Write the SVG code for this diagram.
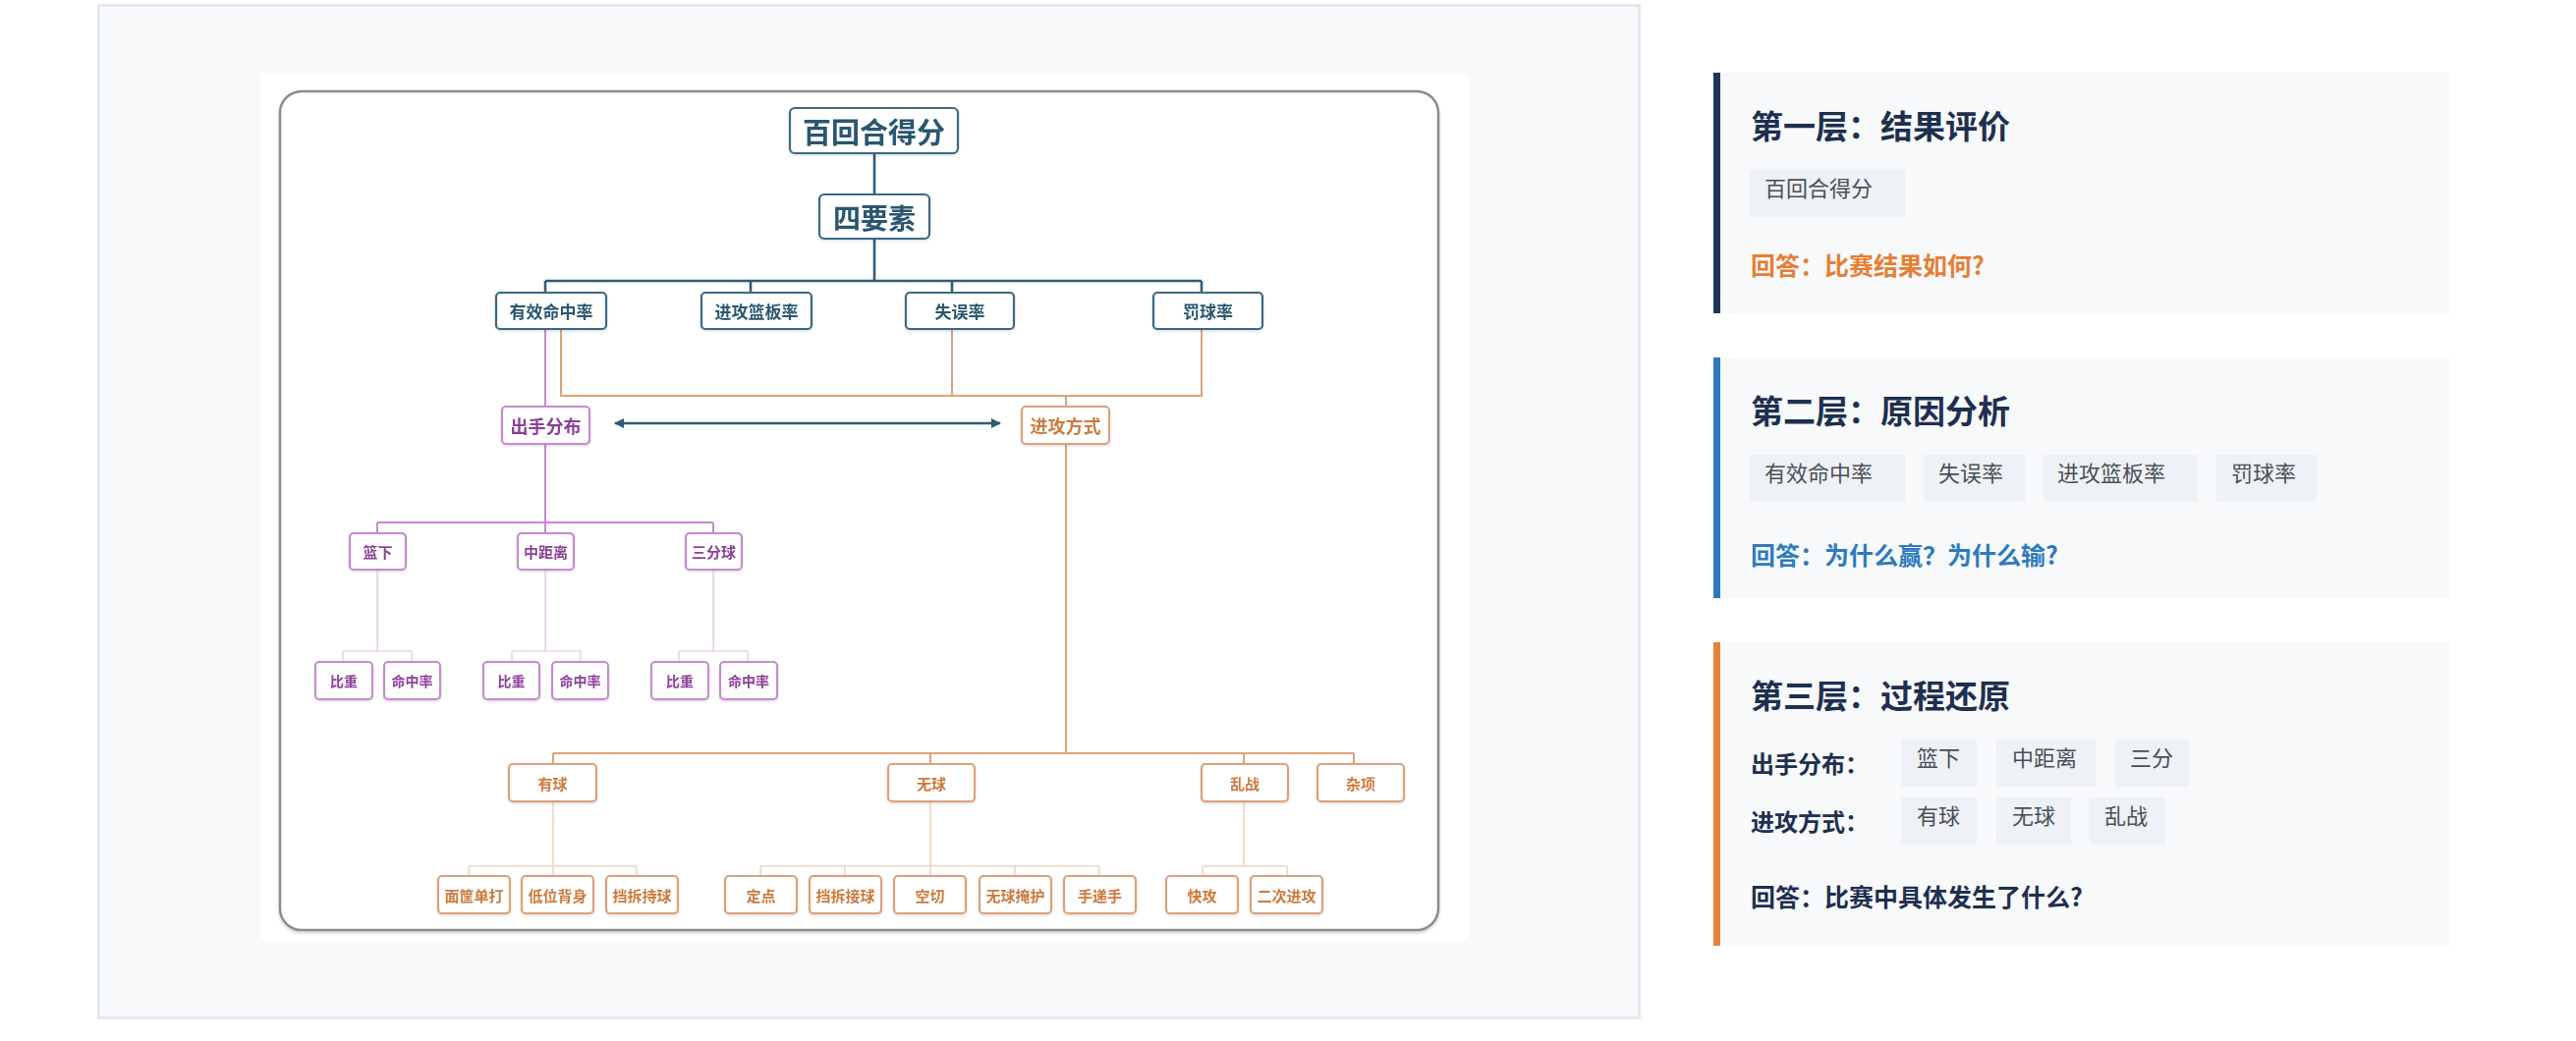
<svg xmlns="http://www.w3.org/2000/svg" width="2622" height="1060" viewBox="0 0 2622 1060">
<style>
text{font-family:"Noto Sans CJK SC","Noto Sans",sans-serif;font-weight:700}
.bx rect{fill:#fff;stroke-width:2.2}
.bx text{text-anchor:middle;dominant-baseline:central}
.t rect{stroke:#3a6985}
.t text{fill:#2b5670}
.p rect{stroke:#c68ad0}
.p text{fill:#8c3f98}
.o rect{stroke:#dba07a}
.o text{fill:#cc7a3e}
.lt{stroke:#2e5c78;stroke-width:2.6;fill:none}
.lo{stroke:#dea27a;stroke-width:2;fill:none}
.lo2{stroke:#f1d3bf;stroke-width:1.6;fill:none}
.lp{stroke:#c887d2;stroke-width:2;fill:none}
.lp2{stroke:#ead0ee;stroke-width:1.6;fill:none}
.card{fill:#f7f9fb}
.ttl{font-size:33px;fill:#1e2f4f}
.tag rect{fill:#eef1f5}
.tag text{font-size:22px;font-weight:400;fill:#4a4f57}
.lbl{font-size:24px;fill:#1e2f4f}
.ans{font-size:25px}
</style>
<defs>
<filter id="sh" x="-10%" y="-10%" width="120%" height="130%"><feDropShadow dx="0" dy="2" stdDeviation="1.5" flood-color="#000" flood-opacity="0.18"/></filter>
<filter id="bs" x="-10%" y="-10%" width="120%" height="140%"><feDropShadow dx="0" dy="1.5" stdDeviation="1" flood-color="#000" flood-opacity="0.12"/></filter>
<marker id="ah" viewBox="0 0 10 10" refX="9" refY="5" markerWidth="4" markerHeight="4" orient="auto-start-reverse"><path d="M0 0L10 5L0 10z" fill="#2e5c78"/></marker>
</defs>
<rect x="0" y="0" width="2622" height="1060" fill="#fff"/>
<rect x="100.5" y="5.5" width="1568" height="1031" fill="#f7f9fb" stroke="#e3e8f0" stroke-width="3"/>
<rect x="265" y="75" width="1230" height="884" fill="#fff"/>
<rect x="285" y="93" width="1179" height="854" rx="22" fill="#fff" stroke="#8c8c8c" stroke-width="2.5" filter="url(#sh)"/>

<g id="connectors">
<path class="lt" d="M890 156V198M890 243V286M555 286H1223M555 286V298M764 286V298M969 286V298M1223 286V298"/>
<path class="lo" d="M571 335V403H1223V335M969 335V403M1085 403V414"/>
<path class="lp" d="M555 335V414"/>
<path class="lt" d="M626 431H1018" stroke-width="3" marker-start="url(#ah)" marker-end="url(#ah)"/>
<path class="lp" d="M555 452V532M384 532H726M384 532V543M555 532V543M726 532V543"/>
<path class="lp2" d="M384 580V663M349 663H419M349 663V674M419 663V674M555 580V663M521 663H591M521 663V674M591 663V674M726 580V663M691 663H761M691 663V674M761 663V674"/>
<path class="lo" d="M1085 452V767M563 767H1378M563 767V778M947 767V778M1266 767V778M1378 767V778"/>
<path class="lo2" d="M563 816V882M477 882H648M477 882V892M563 882V892M648 882V892M947 816V882M774 882H1119M774 882V892M860 882V892M947 882V892M1033 882V892M1119 882V892M1266 816V882M1224 882H1310M1224 882V892M1310 882V892"/>
</g>

<g id="n-root" class="bx t" filter="url(#bs)"><rect x="804" y="110" width="171" height="46" rx="5"/><text x="889.5" y="133" font-size="29">百回合得分</text></g>
<g id="n-four" class="bx t" filter="url(#bs)"><rect x="834" y="198" width="112" height="45" rx="5"/><text x="890" y="220.5" font-size="28">四要素</text></g>
<g id="n-efg" class="bx t" filter="url(#bs)"><rect x="505" y="298" width="112" height="37" rx="4"/><text x="561" y="316.5" font-size="17">有效命中率</text></g>
<g id="n-orb" class="bx t" filter="url(#bs)"><rect x="714" y="298" width="112" height="37" rx="4"/><text x="770" y="316.5" font-size="17">进攻篮板率</text></g>
<g id="n-tov" class="bx t" filter="url(#bs)"><rect x="922" y="298" width="110" height="37" rx="4"/><text x="977" y="316.5" font-size="17">失误率</text></g>
<g id="n-ftr" class="bx t" filter="url(#bs)"><rect x="1174" y="298" width="111" height="37" rx="4"/><text x="1229.5" y="316.5" font-size="17">罚球率</text></g>

<g id="n-shot" class="bx p" filter="url(#bs)"><rect x="511" y="414" width="89" height="38" rx="4"/><text x="555.5" y="433" font-size="18">出手分布</text></g>
<g id="n-atk" class="bx o" filter="url(#bs)"><rect x="1040" y="414" width="89" height="38" rx="4"/><text x="1084.5" y="433" font-size="18">进攻方式</text></g>

<g id="n-rim" class="bx p" filter="url(#bs)"><rect x="356" y="543" width="57" height="37" rx="4"/><text x="384.5" y="561.5" font-size="15">篮下</text></g>
<g id="n-mid" class="bx p" filter="url(#bs)"><rect x="527" y="543" width="57" height="37" rx="4"/><text x="555.5" y="561.5" font-size="15">中距离</text></g>
<g id="n-three" class="bx p" filter="url(#bs)"><rect x="698" y="543" width="57" height="37" rx="4"/><text x="726.5" y="561.5" font-size="15">三分球</text></g>

<g id="n-rim-w" class="bx p" filter="url(#bs)"><rect x="321" y="674" width="58" height="38" rx="4"/><text x="350" y="693" font-size="14">比重</text></g>
<g id="n-rim-p" class="bx p" filter="url(#bs)"><rect x="391" y="674" width="57" height="38" rx="4"/><text x="419.5" y="693" font-size="14">命中率</text></g>
<g id="n-mid-w" class="bx p" filter="url(#bs)"><rect x="492" y="674" width="57" height="38" rx="4"/><text x="520.5" y="693" font-size="14">比重</text></g>
<g id="n-mid-p" class="bx p" filter="url(#bs)"><rect x="562" y="674" width="57" height="38" rx="4"/><text x="590.5" y="693" font-size="14">命中率</text></g>
<g id="n-three-w" class="bx p" filter="url(#bs)"><rect x="663" y="674" width="58" height="38" rx="4"/><text x="692" y="693" font-size="14">比重</text></g>
<g id="n-three-p" class="bx p" filter="url(#bs)"><rect x="733" y="674" width="58" height="38" rx="4"/><text x="762" y="693" font-size="14">命中率</text></g>

<g id="n-ball" class="bx o" filter="url(#bs)"><rect x="518" y="778" width="89" height="38" rx="4"/><text x="562.5" y="797" font-size="15">有球</text></g>
<g id="n-offball" class="bx o" filter="url(#bs)"><rect x="904" y="778" width="88" height="38" rx="4"/><text x="948" y="797" font-size="15">无球</text></g>
<g id="n-chaos" class="bx o" filter="url(#bs)"><rect x="1223" y="778" width="88" height="38" rx="4"/><text x="1267" y="797" font-size="15">乱战</text></g>
<g id="n-misc" class="bx o" filter="url(#bs)"><rect x="1341" y="778" width="88" height="38" rx="4"/><text x="1385" y="797" font-size="15">杂项</text></g>

<g id="n-iso" class="bx o" filter="url(#bs)"><rect x="446" y="892" width="73" height="38" rx="4"/><text x="482.5" y="911" font-size="15">面筐单打</text></g>
<g id="n-post" class="bx o" filter="url(#bs)"><rect x="531" y="892" width="73" height="38" rx="4"/><text x="567.5" y="911" font-size="15">低位背身</text></g>
<g id="n-pnr" class="bx o" filter="url(#bs)"><rect x="617" y="892" width="73" height="38" rx="4"/><text x="653.5" y="911" font-size="15">挡拆持球</text></g>
<g id="n-spot" class="bx o" filter="url(#bs)"><rect x="738" y="892" width="73" height="38" rx="4"/><text x="774.5" y="911" font-size="15">定点</text></g>
<g id="n-roll" class="bx o" filter="url(#bs)"><rect x="824" y="892" width="73" height="38" rx="4"/><text x="860.5" y="911" font-size="15">挡拆接球</text></g>
<g id="n-cut" class="bx o" filter="url(#bs)"><rect x="910" y="892" width="73" height="38" rx="4"/><text x="946.5" y="911" font-size="15">空切</text></g>
<g id="n-screen" class="bx o" filter="url(#bs)"><rect x="997" y="892" width="73" height="38" rx="4"/><text x="1033.5" y="911" font-size="15">无球掩护</text></g>
<g id="n-dho" class="bx o" filter="url(#bs)"><rect x="1083" y="892" width="73" height="38" rx="4"/><text x="1119.5" y="911" font-size="15">手递手</text></g>
<g id="n-fast" class="bx o" filter="url(#bs)"><rect x="1187" y="892" width="73" height="38" rx="4"/><text x="1223.5" y="911" font-size="15">快攻</text></g>
<g id="n-put" class="bx o" filter="url(#bs)"><rect x="1273" y="892" width="73" height="38" rx="4"/><text x="1309.5" y="911" font-size="15">二次进攻</text></g>

<g id="card1">
<rect class="card" x="1744" y="74" width="750" height="245"/>
<rect x="1744" y="74" width="7" height="245" fill="#1f3559"/>
<text class="ttl" x="1782" y="141">第一层：结果评价</text>
<g class="tag"><rect x="1781" y="173" width="158" height="48"/><text x="1796" y="200">百回合得分</text></g>
<text class="ans" x="1782" y="280" fill="#e67e33">回答：比赛结果如何?</text>
</g>

<g id="card2">
<rect class="card" x="1744" y="364" width="750" height="245"/>
<rect x="1744" y="364" width="7" height="245" fill="#2f79b9"/>
<text class="ttl" x="1782" y="431">第二层：原因分析</text>
<g class="tag"><rect x="1781" y="463" width="158" height="48"/><text x="1796" y="490">有效命中率</text></g>
<g class="tag"><rect x="1958" y="463" width="103" height="48"/><text x="1973" y="490">失误率</text></g>
<g class="tag"><rect x="2080" y="463" width="157" height="48"/><text x="2094" y="490">进攻篮板率</text></g>
<g class="tag"><rect x="2256" y="463" width="102" height="48"/><text x="2271" y="490">罚球率</text></g>
<text class="ans" x="1782" y="575" fill="#2e7bbd">回答：为什么赢？为什么输?</text>
</g>

<g id="card3">
<rect class="card" x="1744" y="654" width="750" height="309"/>
<rect x="1744" y="654" width="7" height="309" fill="#e8843a"/>
<text class="ttl" x="1782" y="721">第三层：过程还原</text>
<text class="lbl" x="1782" y="787">出手分布：</text>
<g class="tag"><rect x="1935" y="753" width="77" height="48"/><text x="1951" y="780">篮下</text></g>
<g class="tag"><rect x="2032" y="753" width="101" height="48"/><text x="2048" y="780">中距离</text></g>
<g class="tag"><rect x="2153" y="753" width="76" height="48"/><text x="2168" y="780">三分</text></g>
<text class="lbl" x="1782" y="846">进攻方式：</text>
<g class="tag"><rect x="1935" y="812" width="77" height="48"/><text x="1951" y="839">有球</text></g>
<g class="tag"><rect x="2032" y="812" width="76" height="48"/><text x="2048" y="839">无球</text></g>
<g class="tag"><rect x="2127" y="812" width="77" height="48"/><text x="2142" y="839">乱战</text></g>
<text class="ans" x="1782" y="923" fill="#1e2f4f">回答：比赛中具体发生了什么?</text>
</g>
</svg>
